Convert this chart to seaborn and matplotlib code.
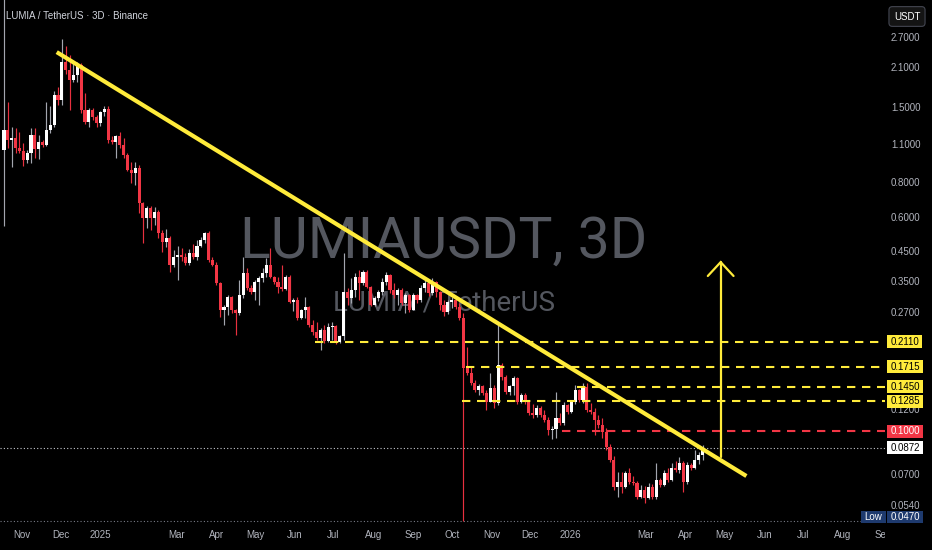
import matplotlib
matplotlib.use("Agg")
import matplotlib.pyplot as plt
import matplotlib.dates as mdates
from matplotlib.path import Path
from matplotlib.ticker import FixedLocator, NullLocator, FuncFormatter
from matplotlib.transforms import Bbox, TransformedBbox, blended_transform_factory
import numpy as np
import pandas as pd
import seaborn as sns

# ---------------- data: LUMIA/USDT, 3-day candles ----------------
candle_start = "2024-10-18"
first_open = 1.049

closes = [
    1.240, 1.141, 1.160, 1.067, 1.040, 0.965, 1.023, 1.189, 1.058, 1.122,
    1.094, 1.240, 1.294, 1.662, 1.594, 2.191, 2.049, 1.884, 1.965, 2.137,
    1.466, 1.327, 1.466, 1.383, 1.316, 1.442, 1.478, 1.141, 1.122, 1.179,
    1.094, 1.006, 0.888, 0.866, 0.903, 0.674, 0.594, 0.646, 0.594, 0.624,
    0.525, 0.486, 0.503, 0.401, 0.429, 0.436, 0.429, 0.408, 0.444, 0.429,
    0.470, 0.494, 0.525, 0.418, 0.401, 0.345, 0.2754, 0.2824, 0.307, 0.2754,
    0.2686, 0.3122, 0.3755, 0.331, 0.320, 0.348, 0.360, 0.3755, 0.401, 0.363,
    0.348, 0.334, 0.328, 0.363, 0.2944, 0.2994, 0.2576, 0.2754, 0.2824, 0.2429,
    0.2291, 0.2179, 0.2330, 0.2125, 0.2389, 0.2409, 0.2107, 0.2216, 0.320, 0.3044,
    0.3255, 0.363, 0.345, 0.3786, 0.334, 0.2871, 0.3044, 0.320, 0.348, 0.369,
    0.3255, 0.3122, 0.3255, 0.292, 0.3122, 0.2754, 0.3122, 0.2994, 0.331, 0.345,
    0.3174, 0.348, 0.320, 0.2871, 0.2708, 0.2944, 0.2994, 0.2824, 0.2576, 0.1696,
    0.1627, 0.1496, 0.1411, 0.1459, 0.1376, 0.1276, 0.1435, 0.1266, 0.1739, 0.1573,
    0.1388, 0.1459, 0.156, 0.1276, 0.1353, 0.1276, 0.1163, 0.1144, 0.1214, 0.1144,
    0.1098, 0.1010, 0.1018, 0.1116, 0.1071, 0.1245, 0.1173, 0.1276, 0.1411, 0.1298,
    0.1447, 0.1193, 0.1173, 0.1098, 0.1053, 0.0993, 0.0876, 0.0786, 0.0627, 0.0654,
    0.0627, 0.0705, 0.0654, 0.0649, 0.0576, 0.0611, 0.0571, 0.0627, 0.0576, 0.0665,
    0.0638, 0.0705, 0.0665, 0.0735, 0.0723, 0.0767, 0.0654, 0.0754, 0.0735, 0.0786,
    0.0819, 0.0872,
]

highs = [
    4.80, 1.568, 1.272, 1.262, 1.219, 1.113, 1.049, 1.262, 1.262, 1.189,
    1.141, 1.568, 1.516, 1.719, 1.777, 2.654, 2.503, 2.321, 2.191, 2.191,
    2.173, 1.690, 1.491, 1.491, 1.406, 1.454, 1.516, 1.516, 1.179, 1.189,
    1.219, 1.160, 1.023, 0.949, 0.949, 0.925, 0.680, 0.657, 0.657, 0.652,
    0.635, 0.538, 0.543, 0.512, 0.455, 0.470, 0.462, 0.444, 0.458, 0.478,
    0.494, 0.507, 0.529, 0.535, 0.429, 0.411, 0.348, 0.2871, 0.3122, 0.309,
    0.278, 0.354, 0.429, 0.391, 0.340, 0.354, 0.366, 0.391, 0.4255, 0.462,
    0.366, 0.363, 0.401, 0.369, 0.368, 0.3044, 0.307, 0.2777, 0.307, 0.2847,
    0.2533, 0.2491, 0.2369, 0.2429, 0.2470, 0.2491, 0.2429, 0.2235, 0.444, 0.331,
    0.360, 0.3755, 0.385, 0.385, 0.385, 0.3367, 0.3096, 0.3255, 0.360, 0.3786,
    0.3723, 0.345, 0.331, 0.331, 0.3174, 0.3148, 0.3174, 0.315, 0.340, 0.360,
    0.354, 0.360, 0.351, 0.3228, 0.2994, 0.2994, 0.307, 0.307, 0.292, 0.2686,
    0.2021, 0.171, 0.1534, 0.1484, 0.1475, 0.1411, 0.1627, 0.1471, 0.2491, 0.1768,
    0.160, 0.1471, 0.1586, 0.1575, 0.1376, 0.137, 0.1298, 0.1255, 0.1245, 0.1234,
    0.1193, 0.1125, 0.1044, 0.1388, 0.1163, 0.1276, 0.1255, 0.1298, 0.1471, 0.1423,
    0.1496, 0.1496, 0.1266, 0.1214, 0.1144, 0.1116, 0.1027, 0.0898, 0.0812, 0.0711,
    0.0711, 0.0717, 0.0735, 0.0688, 0.0659, 0.0638, 0.0632, 0.0649, 0.0643, 0.0767,
    0.0676, 0.0723, 0.0735, 0.0767, 0.0779, 0.0805, 0.0779, 0.0773, 0.0767, 0.0854,
    0.0840, 0.0891,
]

lows = [
    0.555, 1.067, 0.910, 1.023, 1.023, 0.918, 0.941, 0.941, 0.981, 0.973,
    1.076, 1.085, 1.209, 1.272, 1.529, 1.529, 1.982, 1.466, 1.853, 1.853,
    1.430, 1.305, 1.272, 1.349, 1.272, 1.283, 1.394, 1.113, 1.103, 0.981,
    1.067, 0.981, 0.881, 0.797, 0.784, 0.619, 0.482, 0.546, 0.538, 0.560,
    0.503, 0.447, 0.466, 0.379, 0.394, 0.354, 0.415, 0.401, 0.401, 0.422,
    0.418, 0.466, 0.482, 0.411, 0.398, 0.340, 0.2597, 0.2429, 0.2641, 0.2686,
    0.2235, 0.2641, 0.3044, 0.3255, 0.3148, 0.2994, 0.2871, 0.348, 0.363, 0.360,
    0.342, 0.3174, 0.3228, 0.3255, 0.292, 0.2731, 0.2533, 0.2554, 0.2576, 0.2389,
    0.2235, 0.2143, 0.1971, 0.209, 0.2107, 0.2143, 0.2073, 0.209, 0.2143, 0.2871,
    0.292, 0.307, 0.2994, 0.340, 0.331, 0.2847, 0.2847, 0.2969, 0.3122, 0.340,
    0.3174, 0.3044, 0.2871, 0.2871, 0.2686, 0.2708, 0.2754, 0.292, 0.2944, 0.320,
    0.3096, 0.3122, 0.307, 0.2754, 0.2619, 0.2663, 0.280, 0.2777, 0.2533, 0.0470,
    0.160, 0.1471, 0.1388, 0.1353, 0.1353, 0.1193, 0.1276, 0.1214, 0.1240, 0.1534,
    0.1365, 0.1353, 0.1353, 0.1255, 0.1266, 0.1255, 0.1144, 0.1116, 0.1125, 0.1125,
    0.108, 0.0969, 0.0937, 0.0945, 0.1053, 0.1050, 0.1154, 0.1160, 0.1255, 0.1276,
    0.1266, 0.1173, 0.1154, 0.0969, 0.1027, 0.0945, 0.0854, 0.0773, 0.0611, 0.0576,
    0.0596, 0.0620, 0.0643, 0.0638, 0.0567, 0.0571, 0.0548, 0.0565, 0.0567, 0.0568,
    0.0627, 0.0630, 0.0654, 0.0659, 0.0711, 0.0705, 0.0601, 0.0643, 0.0723, 0.0729,
    0.076, 0.0786,
]

# right-hand price scale
price_ticks = [2.7, 2.1, 1.5, 1.1, 0.8, 0.6, 0.45, 0.35, 0.27, 0.12, 0.07, 0.054]

# time scale
month_ticks = ["2024-11-01", "2024-12-01", "2025-01-01", "2025-03-01", "2025-04-01",
               "2025-05-01", "2025-06-01", "2025-07-01", "2025-08-01", "2025-09-01",
               "2025-10-01", "2025-11-01", "2025-12-01", "2026-01-01", "2026-03-01",
               "2026-04-01", "2026-05-01", "2026-06-01", "2026-07-01", "2026-08-01",
               "2026-09-01"]
month_labels = ["Nov", "Dec", "2025", "Mar", "Apr", "May", "Jun", "Jul", "Aug", "Sep",
                "Oct", "Nov", "Dec", "2026", "Mar", "Apr", "May", "Jun", "Jul", "Aug",
                "Sep"]

# horizontal support / resistance levels
level_prices = [0.2110, 0.1715, 0.1450, 0.1285, 0.1000]
level_starts = ["2025-06-17", "2025-10-12", "2026-01-06", "2025-10-09", "2025-12-26"]
level_kinds = ["res", "res", "res", "res", "sup"]

# descending trendline and breakout arrow
trend_dates = ["2024-11-28", "2026-05-18"]
trend_prices = [2.38, 0.0687]
arrow_date = "2026-04-28"
arrow_prices = [0.0806, 0.411]
arrow_head_dates = ["2026-04-18", "2026-04-28", "2026-05-08"]
arrow_head_prices = [0.366, 0.411, 0.366]

view_dates = ["2024-10-14 22:00", "2026-09-02 17:00"]
view_prices = [0.0460, 3.68]

# ---------------- style ----------------
BG = "#000000"
UP, DOWN = "#ffffff", "#f23645"
UP_WICK, DOWN_WICK = "#a3a6af", "#e8303f"
YELLOW = "#ffeb3b"
TEXT = "#b2b5be"
FS = 7  # scale / tag font size

sns.set_theme(style="dark", rc={"axes.facecolor": BG, "figure.facecolor": BG,
                                "axes.grid": False})
plt.rcParams["font.family"] = ["Liberation Sans", "DejaVu Sans"]

W, H = 932, 550
fig = plt.figure(figsize=(W / 100, H / 100), dpi=100)
ax = fig.add_axes([0, 26 / H, 885 / W, 524 / H])
ax.set_facecolor(BG)
for s in ax.spines.values():
    s.set_visible(False)

# ---------------- candles ----------------
dates = pd.date_range(candle_start, periods=len(closes), freq="3D")
x = mdates.date2num(dates)
c = np.array(closes)
o = np.concatenate([[first_open], c[:-1]])
hi = np.array(highs)
lo = np.array(lows)
up = c >= o

ax.vlines(x, lo, hi, colors=np.where(up, UP_WICK, DOWN_WICK), linewidth=0.85, zorder=3)
ax.bar(x, np.abs(c - o), bottom=np.minimum(o, c), width=2.4,
       color=np.where(up, UP, DOWN), linewidth=0, zorder=3)

ax.set_yscale("log")
ax.set_xlim(mdates.date2num(pd.to_datetime(view_dates)))
ax.set_ylim(*view_prices)
x_right = ax.get_xlim()[1]

# ---------------- watermark ----------------
ax.text(0.5017, 0.508, "LUMIAUSDT, 3D", transform=ax.transAxes, ha="center",
        va="baseline", fontsize=41, color="#54575f", zorder=0, family="Roboto")
ax.text(0.5017, 0.4076, "LUMIA / TetherUS", transform=ax.transAxes, ha="center",
        va="baseline", fontsize=20, color="#54575f", zorder=0, family="Roboto")

# ---------------- levels ----------------
for p, start, kind in zip(level_prices, level_starts, level_kinds):
    col = YELLOW if kind == "res" else DOWN
    ax.hlines(p, mdates.date2num(pd.Timestamp(start)), x_right, colors=col,
              linestyles=(0, (4, 3.2)), linewidth=1.5, zorder=4)

last_price = closes[-1]
low_price = min(lows)
ax.axhline(last_price, color="#c8cad2", linestyle=(0, (1, 2)), linewidth=0.8, zorder=2)
ax.axhline(low_price, color="#787b86", linestyle=(0, (1, 2)), linewidth=0.8, zorder=2)

# ---------------- trendline and arrow ----------------
sns.lineplot(x=mdates.date2num(pd.to_datetime(trend_dates)), y=trend_prices, ax=ax,
             color=YELLOW, linewidth=3.0, legend=False, zorder=5,
             solid_capstyle="butt")
ax_x = mdates.date2num(pd.Timestamp(arrow_date))
ax.plot([ax_x, ax_x], arrow_prices, color=YELLOW, linewidth=1.6, zorder=5)
ax.plot(mdates.date2num(pd.to_datetime(arrow_head_dates)), arrow_head_prices,
        color=YELLOW, linewidth=1.6, zorder=5, solid_joinstyle="miter")

# ---------------- axes ----------------
ax.yaxis.tick_right()
ax.yaxis.set_major_locator(FixedLocator(price_ticks))
ax.yaxis.set_major_formatter(FuncFormatter(lambda v, _: f"{v:.4f}"))
ax.yaxis.set_minor_locator(NullLocator())
ax.tick_params(axis="y", length=0, pad=4.3, labelsize=FS, labelcolor=TEXT)

ax.set_xticks(mdates.date2num(pd.to_datetime(month_ticks)), month_labels)
ax.xaxis.set_minor_locator(NullLocator())
ax.tick_params(axis="x", length=0, pad=4.0, labelsize=FS, labelcolor=TEXT)
plot_clip = TransformedBbox(Bbox([[0, 0], [885 / W, 1]]), fig.transFigure)
for lbl in ax.get_xticklabels():
    lbl.set_clip_box(plot_clip)
    lbl.set_clip_on(True)


# ---------------- price tags ----------------
def tag_box(x0, y0, width, height, mutation_size):
    px, py = 0.34 * mutation_size, 0.14 * mutation_size
    verts = [(x0 - px, y0 - py), (x0 + width + px, y0 - py),
             (x0 + width + px, y0 + height + py), (x0 - px, y0 + height + py),
             (x0 - px, y0 - py)]
    return Path(verts, closed=True)


right_edge = blended_transform_factory(ax.transAxes, ax.transData)


def price_tag(price, text, face, ink, dx=3.8, dy=0.0, ha="left"):
    ax.annotate(text, xy=(1, price), xycoords=right_edge, xytext=(dx, dy),
                textcoords="offset points", ha=ha, va="center", fontsize=FS,
                color=ink, annotation_clip=False, zorder=10,
                bbox=dict(boxstyle=tag_box, fc=face, ec="none"))


for p, kind in zip(level_prices, level_kinds):
    if kind == "res":
        price_tag(p, f"{p:.4f}", YELLOW, "#000000")
    else:
        price_tag(p, f"{p:.4f}", DOWN, "#ffffff")
price_tag(last_price, f"{last_price:.4f}", "#ffffff", "#000000")
price_tag(low_price, f"{low_price:.4f}", "#1e3a6e", "#ffffff", dy=3.2)
price_tag(low_price, "Low", "#1e3a6e", "#ffffff", dx=-2.0, dy=3.2, ha="right")

# ---------------- header texts ----------------
fig.text(6 / W, 1 - 16 / H, "LUMIA / TetherUS · 3D · Binance", ha="left", va="center",
         fontsize=7, color="#d1d4dc")
fig.text(907 / W, 1 - 16.5 / H, "USDT", ha="center", va="center", fontsize=7,
         color="#ffffff",
         bbox=dict(boxstyle="round,pad=0.5,rounding_size=0.35", fc="#141414",
                   ec="#434651", lw=0.8))

fig.savefig("out.png", dpi=100, facecolor=BG)
